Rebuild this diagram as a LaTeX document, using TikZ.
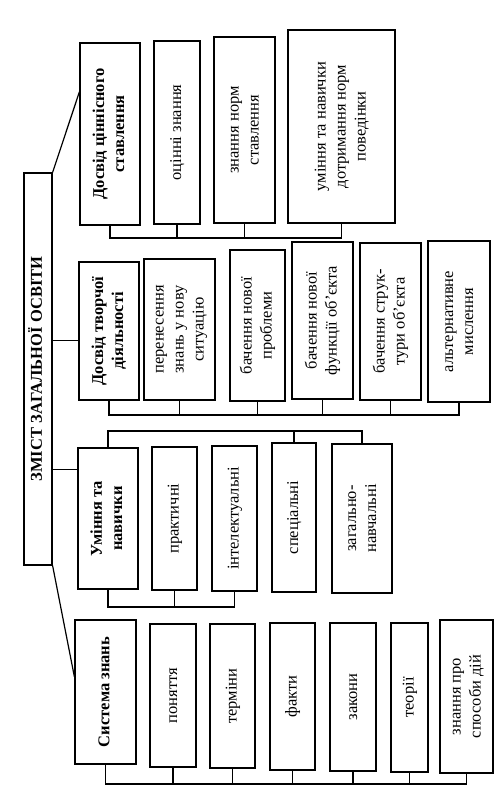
\documentclass[tikz,border=0pt]{standalone}
\usepackage{fontspec}
\usepackage{graphicx}
\setmainfont{Liberation Serif}
\newcommand{\vt}[1]{\rotatebox{90}{\begin{tabular}{@{}c@{}}#1\end{tabular}}}
\begin{document}
\begin{tikzpicture}[x=1pt, y=-1pt,
  box/.style={rectangle, draw, line width=1.2pt, inner sep=0pt, font=\fontsize{16.5}{20}\selectfont},
  head/.style={box, font=\fontsize{16.5}{20}\selectfont\bfseries},
  sz/.style 2 args={minimum width=#1pt, minimum height=#2pt},
  link/.style={line width=1.2pt}
]
\useasboundingbox[fill=white] (0,0) rectangle (503,812);

\node[head, sz={28}{392}] (root) at (38,369) {\vt{ЗМІСТ ЗАГАЛЬНОЇ ОСВІТИ}};

\node[head, sz={60}{182}] (A1) at (110,134) {\vt{Досвід ціннісного\\ставлення}};
\node[box, sz={46}{183}] (A2) at (177,132.5) {\vt{оцінні знання}};
\node[box, sz={61}{186}] (A3) at (244.5,130) {\vt{знання норм\\ставлення}};
\node[box, sz={107}{193}] (A4) at (341.5,126.5) {\vt{уміння та навички\\дотримання норм\\поведінки}};

\node[head, sz={60}{138}] (B1) at (109,331) {\vt{Досвід творчої\\діяльності}};
\node[box, sz={71}{141}] (B2) at (179.5,329.5) {\vt{перенесення\\знань у нову\\ситуацію}};
\node[box, sz={55}{151}] (B3) at (257.5,325.5) {\vt{бачення нової\\проблеми}};
\node[box, sz={61}{157}] (B4) at (322.5,320.5) {\vt{бачення нової\\функції об’єкта}};
\node[box, sz={61}{157}] (B5) at (390.5,321.5) {\vt{бачення струк-\\тури об’єкта}};
\node[box, sz={62}{161}] (B6) at (459,321.5) {\vt{альтернативне\\мислення}};

\node[head, sz={60}{141}] (C1) at (108,518.5) {\vt{Уміння та\\навички}};
\node[box, sz={45}{143}] (C2) at (174.5,518.5) {\vt{практичні}};
\node[box, sz={45}{145}] (C3) at (234.5,518.5) {\vt{інтелектуальні}};
\node[box, sz={44}{149}] (C4) at (294,517.5) {\vt{спеціальні}};
\node[box, sz={60}{149}] (C5) at (362,518.5) {\vt{загально-\\навчальні}};

\node[head, sz={61}{144}] (D1) at (105.5,692) {\vt{Система знань}};
\node[box, sz={46}{143}] (D2) at (173,695.5) {\vt{поняття}};
\node[box, sz={45}{144}] (D3) at (232.5,696) {\vt{терміни}};
\node[box, sz={45}{147}] (D4) at (292.5,696.5) {\vt{факти}};
\node[box, sz={46}{148}] (D5) at (353,697) {\vt{закони}};
\node[box, sz={37}{149}] (D6) at (409.5,697.5) {\vt{теорії}};
\node[box, sz={53}{153}] (D7) at (466.5,696.5) {\vt{знання про\\способи дій}};

\coordinate (busA) at (0,238);
\coordinate (busB) at (0,415);
\coordinate (busC) at (0,431);
\coordinate (busCC) at (0,607);
\coordinate (busD) at (0,784);

\draw[link] (root.north east) -- (A1.126);
\draw[link] (B1.197 -| root.east) -- (B1.197);
\draw[link] (C1.122 -| root.east) -- (C1.122);
\draw[link] (root.south east) -- (D1.154);

\draw[link] (A1.south) -- (A1.south |- busA) -- (A4.south |- busA) -- (A4.south);
\foreach \n in {A2,A3} \draw[link] (\n.south) -- (\n.south |- busA);

\draw[link] (B1.south) -- (B1.south |- busB) -- (B6.south |- busB) -- (B6.south);
\foreach \n in {B2,B3,B4,B5} \draw[link] (\n.south) -- (\n.south |- busB);

\draw[link] (C1.north) -- (C1.north |- busC) -- (C5.north |- busC) -- (C5.north);
\draw[link] (C4.north) -- (C4.north |- busC);
\draw[link] (C1.south) -- (C1.south |- busCC) -- (C3.south |- busCC) -- (C3.south);
\draw[link] (C2.south) -- (C2.south |- busCC);

\draw[link] (D1.south) -- (D1.south |- busD) -- (D7.south |- busD) -- (D7.south);
\foreach \n in {D2,D3,D4,D5,D6} \draw[link] (\n.south) -- (\n.south |- busD);
\end{tikzpicture}
\end{document}
